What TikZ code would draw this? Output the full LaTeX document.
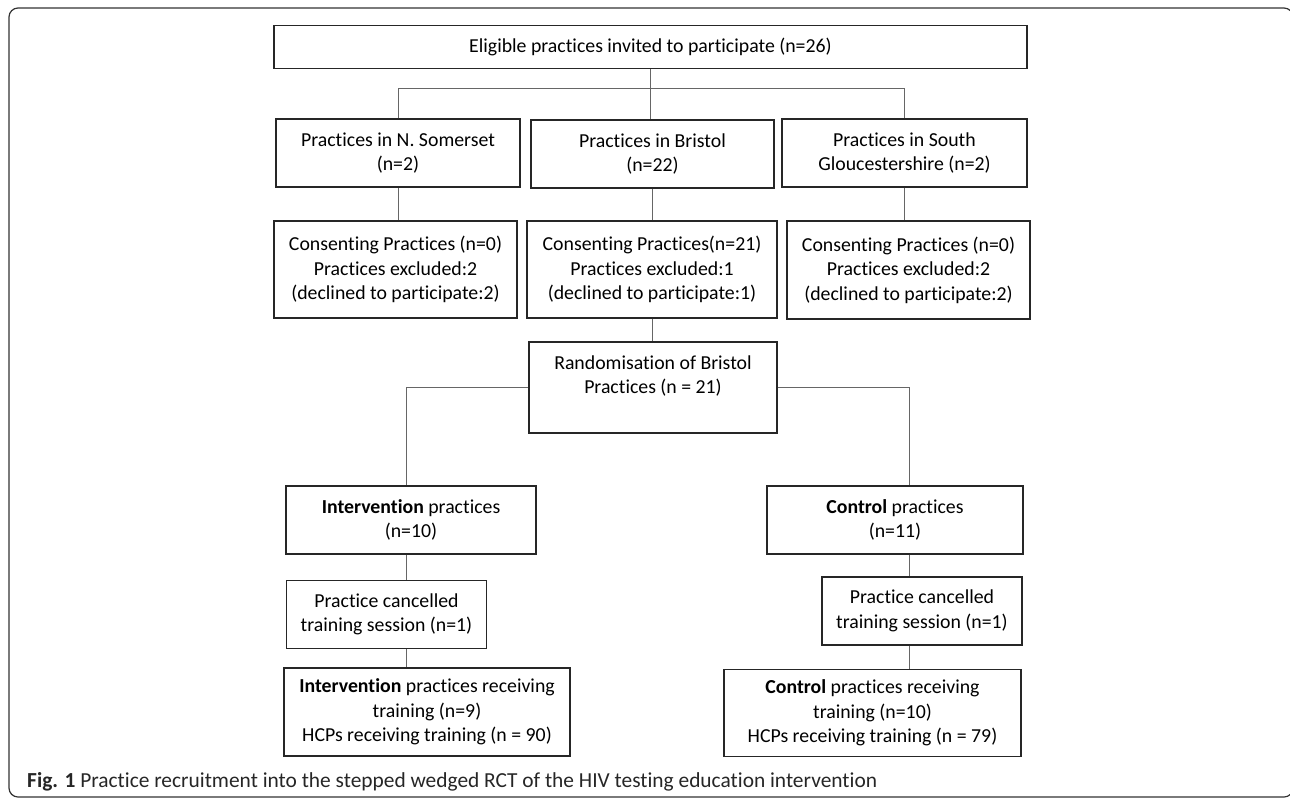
\documentclass[tikz,border=0pt]{standalone}
\usepackage{fontspec}
\setmainfont{Carlito}[Ligatures=NoCommon]
\usetikzlibrary{positioning}

\begin{document}
\begin{tikzpicture}[x=1pt,y=-1pt,
  main node/.style={draw=black!85,line width=1.1pt,align=center,inner sep=0pt,font=\fontsize{19.8}{24.5}\selectfont},
  link/.style={draw=black!60,line width=1pt}]

\useasboundingbox (0,0) rectangle (1290,801);
\draw[black!80,line width=1.2pt,rounded corners=9pt] (9,8) rectangle (1293,797);

% recruitment by area
\node[main node,minimum width=753,minimum height=43] (1) at (650.5,47) {Eligible practices invited to participate (n=26)};
\node[main node,minimum width=244,minimum height=68] (2) at (398,153) {Practices in N. Somerset\\(n=2)};
\node[main node,minimum width=243,minimum height=68] (3) at (652.5,154) {Practices in Bristol\\(n=22)};
\node[main node,minimum width=245,minimum height=68] (4) at (904.5,153) {Practices in South\\Gloucestershire (n=2)};

\node[main node,minimum width=243,minimum height=97] (5) at (395.5,269.5) {Consenting Practices (n=0)\\Practices excluded:2\\(declined to participate:2)};
\node[main node,minimum width=250,minimum height=97] (6) at (652,269.5) {Consenting Practices(n=21)\\Practices excluded:1\\(declined to participate:1)};
\node[main node,minimum width=243,minimum height=98] (7) at (908.5,270) {Consenting Practices (n=0)\\Practices excluded:2\\(declined to participate:2)};

\node[main node,minimum width=248,minimum height=91] (8) at (653,387.5) {Randomisation of Bristol\\Practices (n = 21)\\[1pt]};

% arms
\node[main node,minimum width=250,minimum height=68] (9) at (411,520) {\textbf{Intervention} practices\\(n=10)};
\node[main node,minimum width=200,minimum height=68] (13) at (386.5,614.5) {Practice cancelled\\training session (n=1)};
\node[main node,minimum width=286,minimum height=88] (14) at (427,712) {\textbf{Intervention} practices receiving\\training (n=9)\\HCPs receiving training (n = 90)};

\node[main node,minimum width=256,minimum height=68] (10) at (895,520) {\textbf{Control} practices\\(n=11)};
\node[main node,minimum width=200,minimum height=68] (11) at (922,611) {Practice cancelled\\training session (n=1)};
\node[main node,minimum width=297,minimum height=87] (12) at (872.5,713) {\textbf{Control} practices receiving\\training (n=10)\\HCPs receiving training (n = 79)};

\node[anchor=base west,text=black!85,inner sep=0pt,font=\fontsize{21.4}{24}\selectfont] (cap) at (27,787) {\textbf{Fig. 1} Practice recruitment into the stepped wedged RCT of the HIV testing education intervention};

\coordinate (bus) at (650,88.5);
\coordinate (lc) at (406,0);
\coordinate (rc) at (909,0);

\draw[link] (1.south) -- (1.south |- 3.north);
\draw[link] (2.north) |- (bus) -| (4.north);
\draw[link] (8.west) -| (lc |- 9.north);
\draw[link] (8.east) -| (rc |- 10.north);

\path[link]
  (2.south) edge (2.south |- 5.north)
  (3.south) edge (3.south |- 6.north)
  (4.south) edge (4.south |- 7.north)
  (6.south) edge (6.south |- 8.north)
  (lc |- 9.south) edge (lc |- 13.north)
  (lc |- 13.south) edge (lc |- 14.north)
  (rc |- 10.south) edge (rc |- 11.north)
  (rc |- 11.south) edge (rc |- 12.north);
\end{tikzpicture}
\end{document}
